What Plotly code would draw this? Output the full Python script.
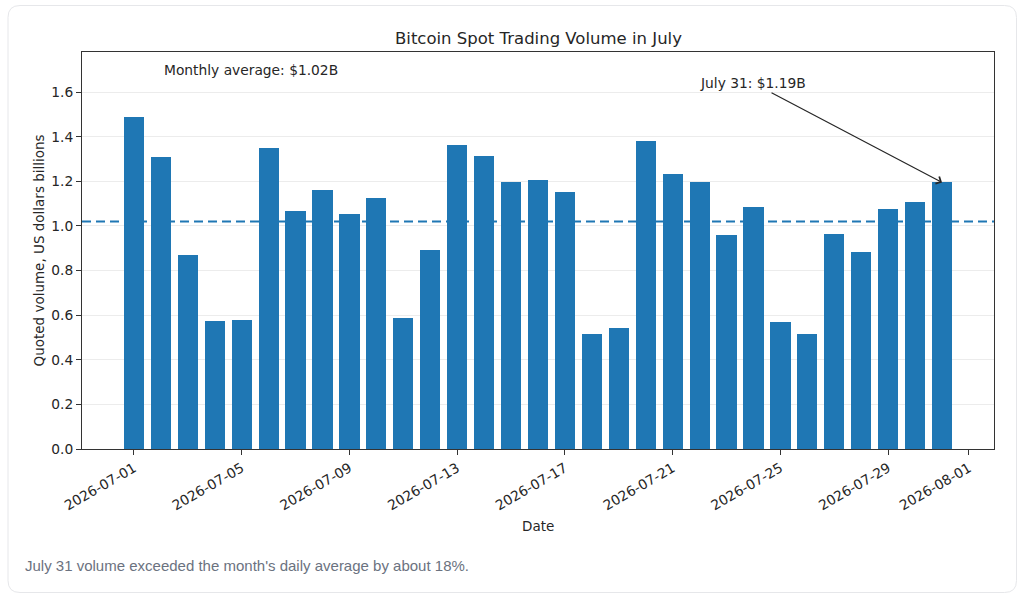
import pandas as pd
import plotly.graph_objects as go

# daily quoted volume, US$ billions
dates = pd.date_range("2026-07-01", periods=31, freq="D")
volume = [1.49, 1.31, 0.87, 0.575, 0.578, 1.348, 1.068, 1.16, 1.052, 1.125,
          0.589, 0.892, 1.363, 1.312, 1.198, 1.207, 1.153, 0.517, 0.541, 1.379,
          1.234, 1.195, 0.959, 1.086, 0.568, 0.514, 0.962, 0.882, 1.076, 1.107,
          1.195]
monthly_avg = 1.02
tick_dates = ["2026-07-01", "2026-07-05", "2026-07-09", "2026-07-13", "2026-07-17",
              "2026-07-21", "2026-07-25", "2026-07-29", "2026-08-01"]
y_ticks = [0.0, 0.2, 0.4, 0.6, 0.8, 1.0, 1.2, 1.4, 1.6]

title = "Bitcoin Spot Trading Volume in July"
avg_label = "Monthly average: $1.02B"
last_label = "July 31: $1.19B"
caption = "July 31 volume exceeded the month's daily average by about 18%."

W, H = 1024, 599
L, R, T, B = 82, 994, 52, 449  # plot area in pixels


def px(x):
    return (x - L) / (R - L)


def py(y):
    return (B - y) / (B - T)


def card_path(x0, y0, x1, y1, r):
    a, b, c, d = px(x0), px(x1), py(y0), py(y1)
    rx, ry = r / (R - L), r / (B - T)
    return (f"M{a + rx},{c} L{b - rx},{c} Q{b},{c} {b},{c - ry} "
            f"L{b},{d + ry} Q{b},{d} {b - rx},{d} L{a + rx},{d} "
            f"Q{a},{d} {a},{d + ry} L{a},{c - ry} Q{a},{c} {a + rx},{c} Z")


mpl_font = "DejaVu Sans"
ink = "#262626"
blue = "#1f77b4"

fig = go.Figure()
fig.add_trace(go.Bar(x=dates, y=volume, width=0.75 * 86400000,
                     marker=dict(color=blue, line=dict(width=0)), name="volume"))

pad = pd.Timedelta(days=1.93)

fig.add_shape(type="path", path=card_path(8, 5.5, 1016.5, 592.5, 12), xref="paper", yref="paper",
              line=dict(color="#e6e7ea", width=1), fillcolor="rgba(0,0,0,0)", layer="below")
fig.add_shape(type="line", xref="paper", x0=0, x1=1, y0=monthly_avg, y1=monthly_avg,
              line=dict(color=blue, width=2, dash="9px,5px"), layer="below")

fig.add_annotation(text=title, xref="paper", yref="paper", x=0.5, y=py(38),
                   xanchor="center", yanchor="middle", showarrow=False,
                   font=dict(family=mpl_font, size=16.5, color=ink))
fig.add_annotation(text=avg_label, xref="paper", yref="paper", x=px(162), y=py(70),
                   xanchor="left", yanchor="middle", showarrow=False,
                   font=dict(family=mpl_font, size=13.8, color=ink))
fig.add_annotation(text=last_label, x=dates[-1], y=volume[-1], ax=dates[23], ay=1.64,
                   axref="x", ayref="y", showarrow=True, arrowhead=4, arrowsize=1.3,
                   arrowwidth=1.2, arrowcolor=ink, standoff=0,
                   font=dict(family=mpl_font, size=13.8, color=ink))
fig.add_annotation(text="Quoted volume, US dollars billions", xref="paper", yref="paper",
                   x=px(38), y=0.5, xanchor="center", yanchor="middle", textangle=-90,
                   showarrow=False, font=dict(family=mpl_font, size=13.5, color=ink))
fig.add_annotation(text="Date", xref="paper", yref="paper", x=0.5, y=py(526),
                   xanchor="center", yanchor="middle", showarrow=False,
                   font=dict(family=mpl_font, size=13.5, color=ink))
fig.add_annotation(text=caption, xref="paper", yref="paper", x=px(23), y=py(565),
                   xanchor="left", yanchor="middle", showarrow=False,
                   font=dict(family="Liberation Sans, Arial", size=15, color="#6b7280"))

fig.update_xaxes(range=[dates[0] - pad, dates[-1] + pad], tickvals=tick_dates,
                 tickformat="%Y-%m-%d", tickangle=-30, ticks="outside", ticklen=5,
                 tickcolor="#333", showgrid=False, showline=True, mirror=True,
                 linecolor="#333", linewidth=1, zeroline=False,
                 tickfont=dict(family=mpl_font, size=13.8, color=ink))
fig.update_yaxes(range=[0, 1.78], tickvals=y_ticks, tickformat=".1f", ticks="outside",
                 ticklen=5, tickcolor="#333", showgrid=True, gridcolor="#ececec",
                 showline=True, mirror=True, linecolor="#333", linewidth=1, zeroline=False,
                 tickfont=dict(family=mpl_font, size=13.8, color=ink))

fig.update_layout(width=W, height=H, margin=dict(l=L, r=W - R, t=T, b=H - B),
                  paper_bgcolor="white", plot_bgcolor="white", showlegend=False,
                  bargap=0)

# the page keeps the browser's default 8px body margin otherwise
fig.write_html("out.html", config={"displayModeBar": False},
               post_script="document.body.style.margin='0px';")
